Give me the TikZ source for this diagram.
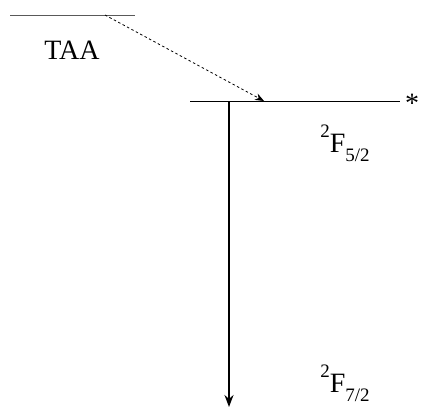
\documentclass[tikz,border=0pt]{standalone}
\usepackage{fontspec}
\setmainfont{Liberation Serif}
\usetikzlibrary{arrows.meta}
\newcommand{\tsup}[1]{\raisebox{0.55em}{\fontsize{19}{22}\selectfont #1}}
\newcommand{\tsub}[1]{\raisebox{-0.3em}{\fontsize{19}{22}\selectfont #1}}
\begin{document}
\begin{tikzpicture}[x=1pt,y=-1pt,
  level/.style={line width=1pt},
  lbl/.style={font=\fontsize{28}{32}\selectfont, inner sep=0pt},
  transfer/.style={line width=0.8pt, dash pattern=on 2.5pt off 2.5pt, -{Stealth[length=9pt,width=7pt]}},
  decay/.style={line width=1.6pt, -{Stealth[length=12pt,width=9pt]}}]
\useasboundingbox (0,0) rectangle (422,407);
\coordinate (taaL) at (10,15);
\coordinate (taaR) at (135,15);
\draw[level, black!65] (taaL) -- (taaR);
\node[lbl] (taa) at (72,50) {TAA};
\coordinate (fL) at (190,101);
\coordinate (fR) at (400,101);
\draw[level] (fL) -- (fR);
\node[lbl, anchor=west] (star) at (405,103) {*};
\coordinate (tstart) at (105,15);
\coordinate (tend) at (264,101);
\draw[transfer] (tstart) -- (tend);
\coordinate (dtop) at (229,101);
\coordinate (dbot) at (229,407);
\draw[decay] (dtop) -- (dbot);
\node[lbl] (f52) at (345,143) {\tsup{2}F\tsub{5/2}};
\node[lbl] (f72) at (345,383) {\tsup{2}F\tsub{7/2}};
\end{tikzpicture}
\end{document}
